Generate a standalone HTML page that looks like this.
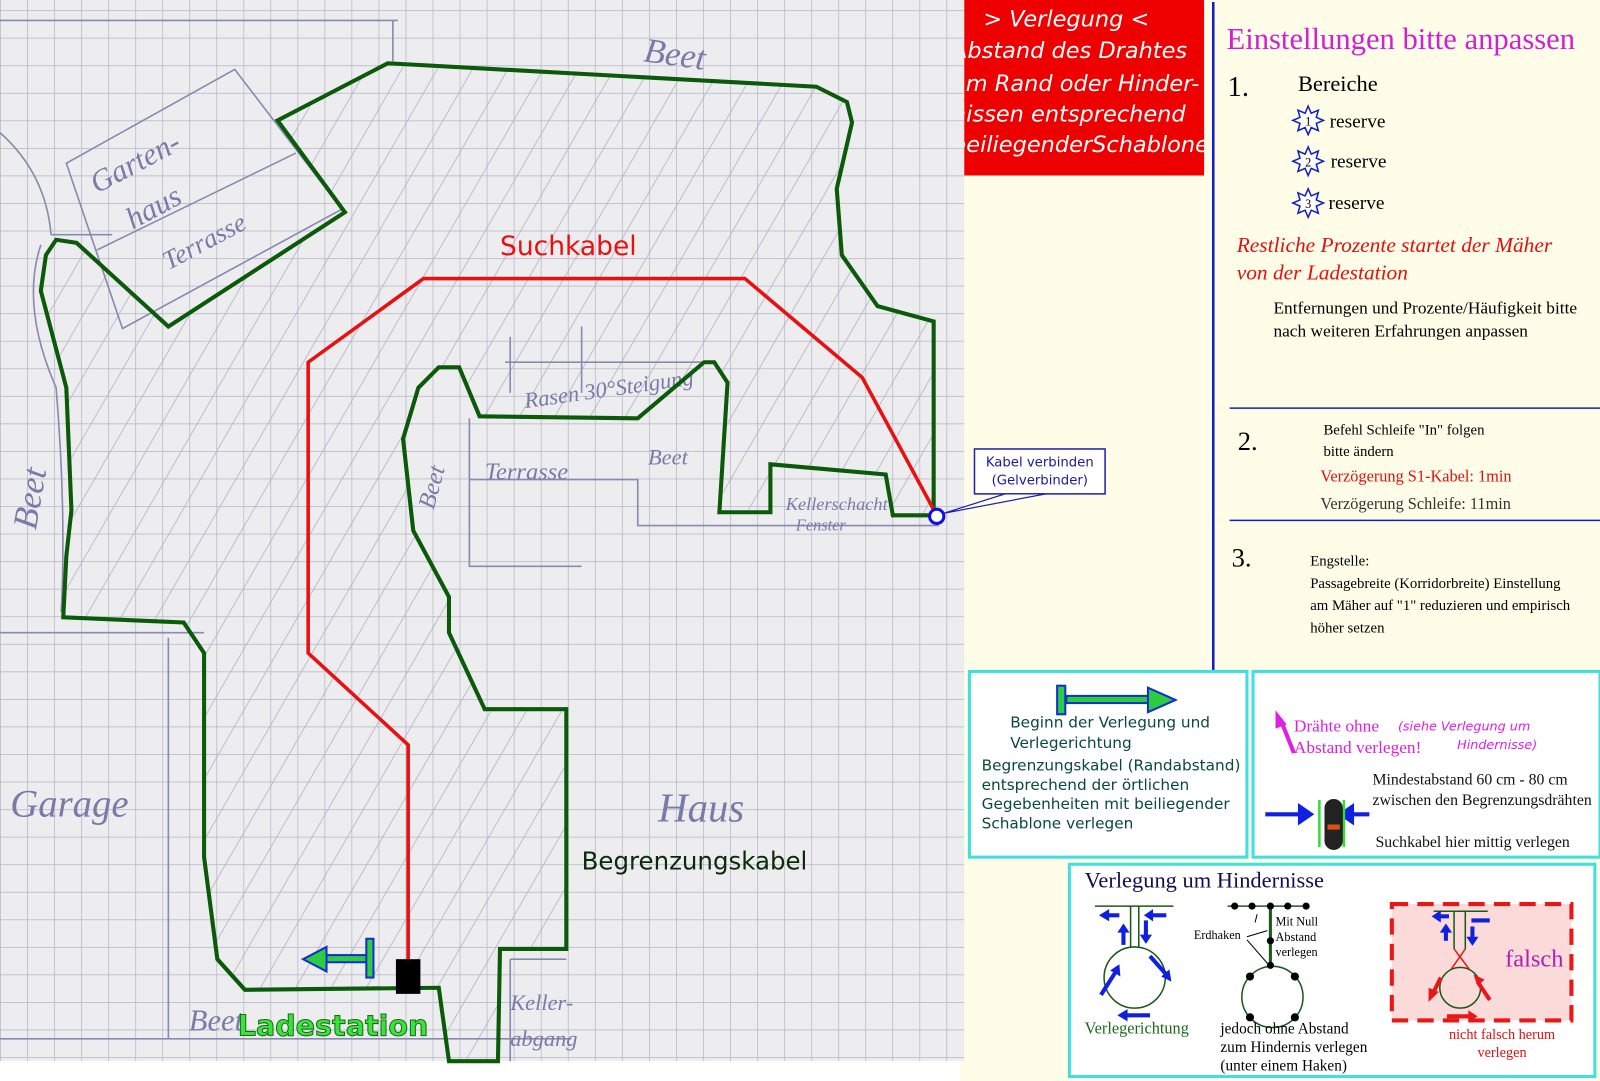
<!DOCTYPE html>
<html><head><meta charset="utf-8"><style>
body{margin:0;width:1600px;height:1081px;overflow:hidden;background:#fff;}
svg{display:block}
.s{font-family:"DejaVu Sans","Liberation Sans",sans-serif}
.t{font-family:"Liberation Serif",serif}
</style></head><body>
<svg width="1600" height="1081" viewBox="0 0 1600 1081" xmlns="http://www.w3.org/2000/svg">
<defs>
<pattern id="g" width="26.5" height="27" patternUnits="userSpaceOnUse" x="0" y="10">
<rect width="26.5" height="27" fill="#ededf0"/>
<path d="M0 0H26.5M0 0V27" stroke="#b4b4c4" stroke-width="1.4"/>
</pattern>
<pattern id="h" width="30" height="30" patternUnits="userSpaceOnUse" patternTransform="rotate(-60)">
<path d="M0 15H30" stroke="#b0b0c4" stroke-width="1"/>
</pattern>
</defs>
<rect width="1600" height="1081" fill="#fffde8"/>
<g transform="scale(1.0204)">
<rect x="0" y="1040" width="940" height="30" fill="#fff"/>
<rect x="0" y="0" width="945" height="1040" fill="url(#g)"/>
<polygon points="380,62 800,85 830,100 820,185 825,250 860,300 915,315 915,505 875,505 868,465 755,455 755,502 705,502 713,375 700,355 690,355 625,410 470,408 450,360 430,360 410,380 395,430 405,520 440,585 440,620 475,695 555,695 555,930 490,930 488,1040 440,1040 430,968 240,970 213,940 200,840 200,640 180,610 62,605 65,545 70,500 65,380 40,285 55,235 75,238 165,320 338,208 272,118" fill="url(#h)" opacity="0.8"/>
<g fill="none" stroke="#8a8ab0" stroke-width="1.6">
<path d="M0 20H390 M385 20V60"/>
<path d="M65 160L230 68L335 205L120 322Z M95 245L290 150"/>
<path d="M0 130Q45 170 50 230 M50 230H110 M40 240Q20 300 55 380 Q65 500 60 600 M0 620H200 M165 625V1018 M0 1018H560"/>
<path d="M460 410V555H570 M460 470H625V515H920"/>
<path d="M500 330V385 M570 320V385 M495 355H700"/>
<path d="M500 940V1040 M500 940H555"/>
</g>
<g fill="#7a7aa8" font-family="Liberation Serif,serif" font-style="italic">
<text x="630" y="60" font-size="34" transform="rotate(8 630 60)">Beet</text>
<text x="95" y="190" font-size="30" transform="rotate(-28 95 190)">Garten-</text>
<text x="130" y="225" font-size="30" transform="rotate(-28 130 225)">haus</text>
<text x="165" y="265" font-size="26" transform="rotate(-28 165 265)">Terrasse</text>
<text x="515" y="400" font-size="22" transform="rotate(-8 515 400)">Rasen 30°Steigung</text>
<text x="475" y="470" font-size="24">Terrasse</text>
<text x="425" y="500" font-size="24" transform="rotate(-75 425 500)">Beet</text>
<text x="635" y="455" font-size="22">Beet</text>
<text x="770" y="500" font-size="18">Kellerschacht</text>
<text x="780" y="520" font-size="16">Fenster</text>
<text x="35" y="520" font-size="34" transform="rotate(-80 35 520)">Beet</text>
<text x="10" y="800" font-size="38">Garage</text>
<text x="645" y="805" font-size="40">Haus</text>
<text x="500" y="990" font-size="22">Keller-</text>
<text x="500" y="1025" font-size="22">abgang</text>
<text x="185" y="1010" font-size="30">Beet</text>
</g>
<polygon points="380,62 800,85 830,100 835,120 820,185 825,250 860,300 915,315 915,505 875,505 868,465 755,455 755,502 705,502 713,375 700,355 690,355 625,410 470,408 450,360 430,360 410,380 395,430 405,520 440,585 440,620 475,695 555,695 555,930 490,930 488,1040 440,1040 430,968 240,970 213,940 200,840 200,640 180,610 62,605 65,545 70,500 65,380 40,285 45,250 55,235 75,238 165,320 338,208 272,118" fill="none" stroke="#0a5a0a" stroke-width="4"/>
<polyline points="400,940 400,730 302,640 302,355 415,273 730,273 845,370 918,505" fill="none" stroke="#e81010" stroke-width="3.5"/>
<rect x="388" y="940" width="24" height="34" fill="#000"/>
<circle cx="918" cy="506" r="7" fill="#fff" stroke="#1010e0" stroke-width="3"/>
<rect x="318" y="936" width="45" height="7" fill="#2ecc40" stroke="#1030d0" stroke-width="2"/>
<polygon points="297,940 320,928 320,952" fill="#2ecc40" stroke="#1030d0" stroke-width="2"/>
<rect x="359" y="920" width="7" height="38" fill="#2ecc40" stroke="#1030d0" stroke-width="2"/>
<text x="490" y="250" class="s" font-size="26" fill="#e81010">Suchkabel</text>
<text x="570" y="852" class="s" font-size="24" fill="#0a2a0a">Begrenzungskabel</text>
<text x="233" y="1015" class="s" font-size="28" font-weight="bold" fill="#3ee03e" stroke="#107010" stroke-width="1">Ladestation</text>
<rect x="955" y="440" width="128" height="44" fill="#fff" stroke="#2020b0" stroke-width="1.5"/>
<polygon points="925,503 985,484 1025,484" fill="#fff" stroke="#2020b0" stroke-width="1.2"/>
<text x="1019" y="457" class="s" font-size="13" fill="#1a1aa0" text-anchor="middle">Kabel verbinden</text>
<text x="1019" y="475" class="s" font-size="13" fill="#1a1aa0" text-anchor="middle">(Gelverbinder)</text>
<rect x="945" y="0" width="235" height="172" fill="#ee0000"/>
<svg x="945" y="0" width="235" height="172" overflow="hidden">
<g class="s" font-style="italic" font-size="22" fill="#fff">
<text x="100" y="26" text-anchor="middle">&gt; Verlegung &lt;</text>
<text x="-12" y="57">Abstand des Drahtes</text>
<text x="-12" y="89">am Rand oder Hinder-</text>
<text x="-12" y="119">nissen entsprechend</text>
<text x="-12" y="149">beiliegenderSchablone</text>
</g></svg>
<line x1="1189" y1="2" x2="1189" y2="657" stroke="#1020c0" stroke-width="2.5"/>
<line x1="1205" y1="400" x2="1570" y2="400" stroke="#1020c0" stroke-width="1.5"/>
<line x1="1205" y1="510" x2="1570" y2="510" stroke="#1020c0" stroke-width="1.5"/>
<g class="t">
<text x="1202" y="48" font-size="30" fill="#d020d0">Einstellungen bitte anpassen</text>
<text x="1203" y="94" font-size="28" fill="#000">1.</text>
<text x="1272" y="89" font-size="22" fill="#000">Bereiche</text>
<text x="1303" y="125" font-size="19">reserve</text>
<text x="1304" y="164" font-size="19">reserve</text>
<text x="1302" y="205" font-size="19">reserve</text>
<text x="1212" y="247" font-size="21" font-style="italic" fill="#e01010">Restliche Prozente  startet der Mäher</text>
<text x="1212" y="274" font-size="21" font-style="italic" fill="#e01010">von der Ladestation</text>
<text x="1248" y="307" font-size="17">Entfernungen und Prozente/Häufigkeit bitte</text>
<text x="1248" y="330" font-size="17">nach weiteren Erfahrungen anpassen</text>
<text x="1213" y="441" font-size="26">2.</text>
<text x="1297" y="426" font-size="14.5">Befehl Schleife "In" folgen</text>
<text x="1297" y="447" font-size="14.5">bitte ändern</text>
<text x="1294" y="472" font-size="16" fill="#e01010">Verzögerung S1-Kabel: 1min</text>
<text x="1294" y="499" font-size="16" fill="#333">Verzögerung Schleife: 11min</text>
<text x="1207" y="555" font-size="26">3.</text>
<text x="1284" y="554" font-size="14.5">Engstelle:</text>
<text x="1284" y="576" font-size="14.5">Passagebreite (Korridorbreite) Einstellung</text>
<text x="1284" y="598" font-size="14.5">am Mäher auf "1" reduzieren und empirisch</text>
<text x="1284" y="620" font-size="14.5">höher setzen</text>
</g>
<g fill="#fff" stroke="#1020c0" stroke-width="1.5">
<polygon points="1282,104 1285,111 1292,108 1290,115 1297,118 1290,121 1292,128 1285,125 1282,132 1279,125 1272,128 1274,121 1267,118 1274,115 1272,108 1279,111"/>
<polygon points="1282,144 1285,151 1292,148 1290,155 1297,158 1290,161 1292,168 1285,165 1282,172 1279,165 1272,168 1274,161 1267,158 1274,155 1272,148 1279,151"/>
<polygon points="1282,185 1285,192 1292,189 1290,196 1297,199 1290,202 1292,209 1285,206 1282,213 1279,206 1272,209 1274,202 1267,199 1274,196 1272,189 1279,192"/>
</g>
<g class="t" font-size="12" text-anchor="middle"><text x="1282" y="123">1</text><text x="1282" y="163">2</text><text x="1282" y="204">3</text></g>
<rect x="950" y="658" width="272" height="182" fill="#fff" stroke="#40e0e0" stroke-width="3"/>
<rect x="1045" y="682" width="80" height="7" fill="#2ecc40" stroke="#1030d0" stroke-width="2"/>
<polygon points="1152,686 1125,674 1125,698" fill="#2ecc40" stroke="#1030d0" stroke-width="2"/>
<rect x="1036" y="672" width="8" height="28" fill="#2ecc40" stroke="#1030d0" stroke-width="2"/>
<g class="s" font-size="15" fill="#0a4a3a">
<text x="990" y="713">Beginn der Verlegung und</text>
<text x="990" y="733">Verlegerichtung</text>
<text x="962" y="755">Begrenzungskabel (Randabstand)</text>
<text x="962" y="774">entsprechend der örtlichen</text>
<text x="962" y="793">Gegebenheiten mit beiliegender</text>
<text x="962" y="812">Schablone verlegen</text>
</g>
<rect x="1228" y="658" width="340" height="182" fill="#fff" stroke="#40e0e0" stroke-width="3"/>
<line x1="1268" y1="738" x2="1255" y2="705" stroke="#e020e0" stroke-width="4"/>
<polygon points="1250,696 1250,714 1261,710" fill="#e020e0"/>
<g class="t" fill="#e020e0">
<text x="1268" y="717" font-size="17">Drähte ohne</text>
<text x="1268" y="738" font-size="17">Abstand verlegen!</text>
</g>
<g class="s" fill="#e020e0" font-style="italic" font-size="12.5">
<text x="1370" y="716">(siehe Verlegung um</text>
<text x="1428" y="734">Hindernisse)</text>
</g>
<g class="t" font-size="15.5" fill="#111">
<text x="1345" y="769">Mindestabstand 60 cm - 80 cm</text>
<text x="1345" y="789">zwischen den Begrenzungsdrähten</text>
<text x="1348" y="830">Suchkabel hier mittig verlegen</text>
</g>
<line x1="1240" y1="798" x2="1275" y2="798" stroke="#1020e0" stroke-width="4"/>
<polygon points="1288,798 1272,787 1272,809" fill="#1020e0"/>
<line x1="1322" y1="798" x2="1342" y2="798" stroke="#1020e0" stroke-width="4"/>
<polygon points="1311,798 1327,787 1327,809" fill="#1020e0"/>
<line x1="1293" y1="784" x2="1293" y2="830" stroke="#30e030" stroke-width="2.5"/>
<line x1="1317" y1="784" x2="1317" y2="830" stroke="#30e030" stroke-width="2.5"/>
<rect x="1298" y="783" width="18" height="50" rx="9" fill="#222"/>
<rect x="1301" y="808" width="12" height="5" fill="#e05010"/>
<rect x="1048" y="847" width="515" height="208" fill="#fff" stroke="#40e0e0" stroke-width="3"/>
<text x="1063" y="870" class="t" font-size="22" fill="#101050">Verlegung um Hindernisse</text>
<g fill="none" stroke="#1a5a1a" stroke-width="1.5">
<path d="M1073 888H1150 M1108 888V928 M1116 888V928"/>
<circle cx="1112" cy="958" r="30"/>
<path d="M1203 888H1282"/>
<circle cx="1247" cy="977" r="30"/>
</g>
<line x1="1245" y1="888" x2="1245" y2="946" stroke="#1a5a1a" stroke-width="3"/>
<g fill="#000">
<circle cx="1210" cy="888" r="3.5"/><circle cx="1227" cy="888" r="3.5"/><circle cx="1245" cy="888" r="3.5"/><circle cx="1262" cy="888" r="3.5"/><circle cx="1280" cy="888" r="3.5"/>
<circle cx="1245" cy="922" r="3.5"/><circle cx="1245" cy="946" r="3.5"/>
<circle cx="1225" cy="957" r="4"/><circle cx="1269" cy="957" r="4"/><circle cx="1225" cy="997" r="4"/><circle cx="1269" cy="997" r="4"/>
</g>
<g class="t" font-size="12" fill="#000">
<text x="1250" y="907">Mit Null</text><text x="1250" y="922">Abstand</text><text x="1250" y="937">verlegen</text>
<text x="1170" y="920">Erdhaken</text>
</g>
<path d="M1222 918L1242 912 M1222 921L1242 944 M1230 904L1232 896" stroke="#000" stroke-width="1"/>
<g stroke="#1020e0" stroke-width="4">
<line x1="1143" y1="897" x2="1128" y2="897"/>
<line x1="1097" y1="897" x2="1085" y2="897"/>
<line x1="1101" y1="926" x2="1101" y2="912"/>
<line x1="1123" y1="902" x2="1123" y2="918"/>
<line x1="1079" y1="975" x2="1093" y2="953"/>
<line x1="1127" y1="937" x2="1143" y2="955"/>
<line x1="1127" y1="995" x2="1103" y2="995"/>
</g>
<g fill="#1020e0">
<polygon points="1121,897 1130,891 1130,903"/><polygon points="1077,897 1087,891 1087,903"/>
<polygon points="1101,905 1095,914 1107,914"/><polygon points="1123,925 1117,916 1129,916"/>
<polygon points="1097,945 1088,951 1098,957"/><polygon points="1148,962 1138,957 1146,950"/>
<polygon points="1095,995 1105,989 1105,1001"/>
</g>
<rect x="1364" y="886" width="176" height="114" fill="#fbdada" stroke="#e81818" stroke-width="4" stroke-dasharray="16,9"/>
<g fill="none" stroke="#1a5a1a" stroke-width="1.5">
<path d="M1405 893H1458 M1425 893V930 M1436 893V930"/>
<circle cx="1431" cy="968" r="20"/>
</g>
<path d="M1425 930L1440 950 M1436 930L1422 950" stroke="#e81818" stroke-width="1.5"/>
<g stroke="#1020e0" stroke-width="4">
<line x1="1420" y1="898" x2="1410" y2="898"/><line x1="1442" y1="902" x2="1460" y2="902"/>
<line x1="1417" y1="922" x2="1417" y2="912"/><line x1="1443" y1="908" x2="1443" y2="920"/>
</g>
<g fill="#1020e0"><polygon points="1403,898 1412,892 1412,904"/><polygon points="1417,905 1411,914 1423,914"/><polygon points="1443,927 1437,918 1449,918"/></g>
<g stroke="#e81818" stroke-width="4">
<line x1="1412" y1="958" x2="1404" y2="974"/><line x1="1460" y1="980" x2="1448" y2="962"/><line x1="1418" y1="996" x2="1440" y2="996"/>
</g>
<polygon points="1400,982 1400,968 1410,972" fill="#e81818"/>
<polygon points="1444,955 1455,960 1448,966" fill="#e81818"/>
<polygon points="1448,996 1439,990 1439,1002" fill="#e81818"/>
<text x="1475" y="947" class="t" font-size="24" fill="#b020b0">falsch</text>
<g class="t">
<text x="1063" y="1013" font-size="16" fill="#1a6a1a">Verlegerichtung</text>
<text x="1196" y="1013" font-size="15">jedoch ohne Abstand</text>
<text x="1196" y="1031" font-size="15">zum Hindernis verlegen</text>
<text x="1196" y="1049" font-size="15">(unter einem Haken)</text>
<text x="1472" y="1018" font-size="14" fill="#e01010" text-anchor="middle">nicht falsch herum</text>
<text x="1472" y="1036" font-size="14" fill="#e01010" text-anchor="middle">verlegen</text>
</g>
</g>
</svg>
</body></html>
